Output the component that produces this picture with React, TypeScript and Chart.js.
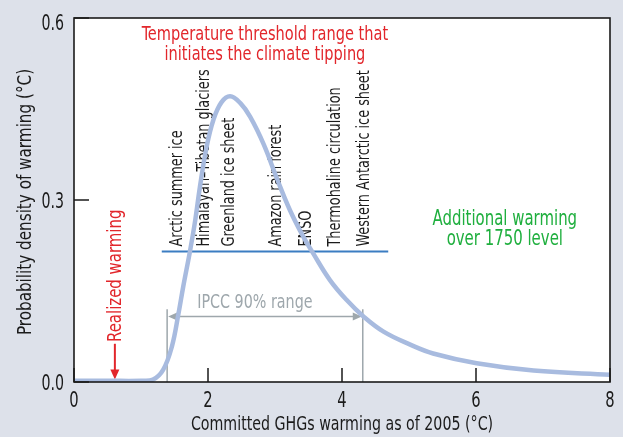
import React, { useEffect, useRef } from "react";
import { Chart, registerables } from "chart.js";

Chart.register(...registerables);

// ---- data ----
const warmingX = [0, 0.5, 1.0, 1.18, 1.33, 1.46, 1.56, 1.63, 1.73, 1.81, 1.88, 1.98, 2.08, 2.2, 2.33, 2.48, 2.63, 2.83, 3.03, 3.22, 3.42, 3.57, 3.82, 4.07, 4.32, 4.62, 5.01, 5.36, 6.01, 6.86, 8.0];
const densityY = [0.002, 0.002, 0.002, 0.004, 0.02, 0.058, 0.113, 0.157, 0.215, 0.267, 0.322, 0.388, 0.432, 0.461, 0.471, 0.46, 0.437, 0.392, 0.335, 0.284, 0.24, 0.212, 0.168, 0.135, 0.108, 0.083, 0.062, 0.047, 0.031, 0.019, 0.012];

const xTickValues = [0, 2, 4, 6, 8];
const xTickLabels = ["0", "2", "4", "6", "8"];
const yTickValues = [0, 0.3, 0.6];
const yTickLabels = ["0.0", "0.3", "0.6"];

const xAxisTitle = "Committed GHGs warming as of 2005 (°C)";
const yAxisTitle = "Probability density of warming (°C)";

const titleLines = ["Temperature threshold range that", "initiates the climate tipping"];
const greenLines = ["Additional warming", "over 1750 level"];

const tippingLabels = [
  "Arctic summer ice",
  "Himalayan–Tibetan glaciers",
  "Greenland ice sheet",
  "Amazon rain forest",
  "ENSO",
  "Thermohaline circulation",
  "Western Antarctic ice sheet",
];
const tippingX = [1.53, 1.93, 2.3, 3.01, 3.45, 3.88, 4.32];
const thresholdRange = [1.31, 4.69];
const thresholdY = 0.215;

const ipccLabel = "IPCC 90% range";
const ipccRange = [1.39, 4.31];
const ipccArrowY = 0.108;
const ipccLineTop = 0.12;

const realizedLabel = "Realized warming";
const realizedX = 0.61;

// ---- styles ----
const FONT = "'DejaVu Sans Condensed', 'DejaVu Sans', sans-serif";
const BG = "#dde1ea";
const CURVE = "#a8bbdf";
const RED = "#e2262b";
const GREEN = "#1faf3e";
const BLUE = "#3b7dc2";
const GRAY = "#9ea7ac";
const INK = "#1b1b1b";

type TextOpts = {
  size: number;
  color: string;
  squeeze: number;
  align?: CanvasTextAlign;
  baseline?: CanvasTextBaseline;
  vertical?: boolean;
};

function drawText(ctx: CanvasRenderingContext2D, text: string, x: number, y: number, o: TextOpts) {
  ctx.save();
  ctx.translate(x, y);
  if (o.vertical) ctx.rotate(-Math.PI / 2);
  ctx.scale(o.squeeze, 1);
  ctx.font = `${o.size}px ${FONT}`;
  ctx.fillStyle = o.color;
  ctx.textAlign = o.align ?? "center";
  ctx.textBaseline = o.baseline ?? "alphabetic";
  ctx.fillText(text, 0, 0);
  ctx.restore();
}

const annotPlugin = {
  id: "annot",
  beforeDraw(chart: any) {
    const { ctx, chartArea: ca, width, height } = chart;
    ctx.save();
    ctx.fillStyle = BG;
    ctx.fillRect(0, 0, width, height);
    ctx.fillStyle = "#ffffff";
    ctx.fillRect(ca.left, ca.top, ca.right - ca.left, ca.bottom - ca.top);
    ctx.restore();
  },
  beforeDatasetsDraw(chart: any) {
    const { ctx } = chart;
    const xs = chart.scales.x;
    const ys = chart.scales.y;
    const px = (v: number) => xs.getPixelForValue(v);
    const py = (v: number) => ys.getPixelForValue(v);
    ctx.save();

    // red title
    drawText(ctx, titleLines[0], px(2.85), py(0.5637), { size: 20, color: RED, squeeze: 0.81 });
    drawText(ctx, titleLines[1], px(2.85), py(0.5307), { size: 20, color: RED, squeeze: 0.81 });

    // green text
    drawText(ctx, greenLines[0], px(6.43), py(0.2588), { size: 20.5, color: GREEN, squeeze: 0.81 });
    drawText(ctx, greenLines[1], px(6.43), py(0.2258), { size: 20.5, color: GREEN, squeeze: 0.81 });

    // tipping labels (rotated)
    const labelBottom = py(thresholdY) - 5;
    tippingLabels.forEach((t, i) => {
      drawText(ctx, t, px(tippingX[i]) + 1, labelBottom, {
        size: 17.5,
        color: INK,
        squeeze: 0.815,
        align: "left",
        baseline: "middle",
        vertical: true,
      });
    });

    // blue threshold line
    ctx.strokeStyle = BLUE;
    ctx.lineWidth = 2;
    ctx.beginPath();
    ctx.moveTo(px(thresholdRange[0]), py(thresholdY));
    ctx.lineTo(px(thresholdRange[1]), py(thresholdY));
    ctx.stroke();

    // IPCC range
    ctx.strokeStyle = GRAY;
    ctx.fillStyle = GRAY;
    ctx.lineWidth = 1.5;
    const xl = px(ipccRange[0]);
    const xr = px(ipccRange[1]);
    const ya = py(ipccArrowY);
    ctx.beginPath();
    ctx.moveTo(xl, py(0));
    ctx.lineTo(xl, py(ipccLineTop));
    ctx.moveTo(xr, py(0));
    ctx.lineTo(xr, py(ipccLineTop));
    ctx.moveTo(xl + 8, ya);
    ctx.lineTo(xr - 8, ya);
    ctx.stroke();
    ctx.beginPath();
    ctx.moveTo(xl + 1, ya);
    ctx.lineTo(xl + 10, ya - 4);
    ctx.lineTo(xl + 10, ya + 4);
    ctx.closePath();
    ctx.moveTo(xr - 1, ya);
    ctx.lineTo(xr - 10, ya - 4);
    ctx.lineTo(xr - 10, ya + 4);
    ctx.closePath();
    ctx.fill();
    drawText(ctx, ipccLabel, px(2.7), py(0.122), { size: 20, color: GRAY, squeeze: 0.795 });

    // realized warming
    drawText(ctx, realizedLabel, px(realizedX) + 1, py(0.066), {
      size: 20,
      color: RED,
      squeeze: 0.83,
      align: "left",
      baseline: "middle",
      vertical: true,
    });
    ctx.fillStyle = RED;
    ctx.strokeStyle = RED;
    const ax = px(realizedX);
    const tip = py(0.004);
    ctx.lineWidth = 2;
    ctx.beginPath();
    ctx.moveTo(ax, py(0.063));
    ctx.lineTo(ax, tip - 8);
    ctx.stroke();
    ctx.beginPath();
    ctx.moveTo(ax, tip);
    ctx.lineTo(ax - 4.5, tip - 10);
    ctx.lineTo(ax + 4.5, tip - 10);
    ctx.closePath();
    ctx.fill();

    ctx.restore();
  },
  afterDraw(chart: any) {
    const { ctx, chartArea: ca } = chart;
    const xs = chart.scales.x;
    const ys = chart.scales.y;
    ctx.save();
    // inward tick marks
    ctx.strokeStyle = INK;
    ctx.lineWidth = 1.5;
    ctx.beginPath();
    xTickValues.forEach((v) => {
      const x = xs.getPixelForValue(v);
      ctx.moveTo(x, ca.bottom);
      ctx.lineTo(x, ca.bottom - 14);
    });
    yTickValues.forEach((v) => {
      const y = ys.getPixelForValue(v);
      ctx.moveTo(ca.left, y);
      ctx.lineTo(ca.left + 15, y);
    });
    ctx.stroke();
    ctx.lineWidth = 1.6;
    ctx.strokeRect(ca.left, ca.top, ca.right - ca.left, ca.bottom - ca.top);

    // tick labels
    xTickValues.forEach((v, i) => {
      drawText(ctx, xTickLabels[i], xs.getPixelForValue(v), ca.bottom + 25, { size: 21, color: INK, squeeze: 0.78 });
    });
    yTickValues.forEach((v, i) => {
      const y = ys.getPixelForValue(v);
      drawText(ctx, yTickLabels[i], ca.left - 10, Math.max(y + 8, ca.top + 12), {
        size: 21,
        color: INK,
        squeeze: 0.75,
        align: "right",
      });
    });

    // axis titles
    drawText(ctx, xAxisTitle, (ca.left + ca.right) / 2, 430, { size: 20, color: INK, squeeze: 0.79 });
    drawText(ctx, yAxisTitle, 31, (ca.top + ca.bottom) / 2 + 2, {
      size: 20,
      color: INK,
      squeeze: 0.845,
      vertical: true,
    });
    ctx.restore();
  },
};

export default function App() {
  const ref = useRef<HTMLCanvasElement | null>(null);
  useEffect(() => {
    document.body.style.margin = "0";
    const canvas = ref.current;
    if (!canvas) return;
    const chart = new Chart(canvas, {
      type: "line",
      data: {
        datasets: [
          {
            data: warmingX.map((x, i) => ({ x, y: densityY[i] })),
            borderColor: CURVE,
            borderWidth: 4.5,
            pointRadius: 0,
            fill: false,
            tension: 0.4,
            clip: 0,
          } as any,
        ],
      },
      options: {
        responsive: false,
        animation: false,
        devicePixelRatio: 1,
        layout: { padding: { left: 0, top: 18, right: 13, bottom: 0 } },
        plugins: { legend: { display: false }, tooltip: { enabled: false }, title: { display: false } },
        scales: {
          x: {
            type: "linear",
            min: 0,
            max: 8,
            afterBuildTicks: (s: any) => {
              s.ticks = xTickValues.map((v) => ({ value: v }));
            },
            ticks: { display: false },
            grid: { display: false, drawTicks: false },
            border: { display: false },
            title: { display: false, text: xAxisTitle },
            afterFit: (s: any) => {
              s.height = 55;
            },
          },
          y: {
            type: "linear",
            min: 0,
            max: 0.6,
            afterBuildTicks: (s: any) => {
              s.ticks = yTickValues.map((v) => ({ value: v }));
            },
            ticks: { display: false },
            grid: { display: false, drawTicks: false },
            border: { display: false },
            title: { display: false, text: yAxisTitle },
            afterFit: (s: any) => {
              s.width = 74;
            },
          },
        },
      },
      plugins: [annotPlugin],
    });
    return () => chart.destroy();
  }, []);
  return <canvas ref={ref} width={623} height={437} style={{ display: "block", width: 623, height: 437 }} />;
}
